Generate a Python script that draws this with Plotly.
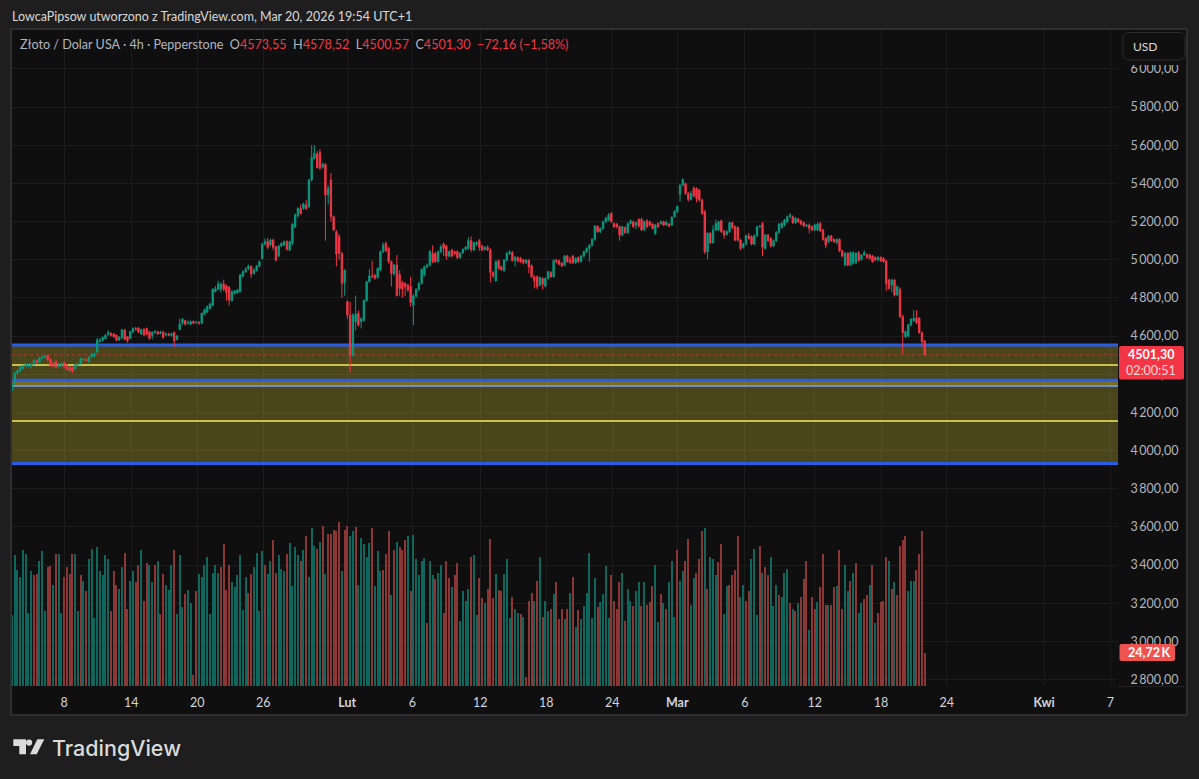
import plotly.graph_objects as go

W, H = 1199, 779
PL, PR, PT, PB = 12, 1118, 30, 686
X_END = 402.3

opens = [
    4317,4352,4405,4419,4431,4443,4443,4443,4452,4471,
    4461,4485,4489,4499,4478,4457,4466,4440,4447,4460,
    4447,4436,4436,4429,4450,4457,4475,4478,4466,4492,
    4495,4517,4572,4579,4586,4607,4614,4611,4604,4579,
    4590,4632,4597,4588,4621,4639,4642,4611,4635,4639,
    4622,4604,4618,4621,4614,4621,4608,4611,4604,4618,
    4583,4635,4667,4681,4668,4663,4677,4670,4672,4667,
    4716,4726,4745,4761,4834,4845,4845,4873,4862,4855,
    4786,4824,4827,4833,4915,4937,4953,4964,4929,4943,
    4967,5007,5082,5095,5077,5103,5068,5020,5072,5077,
    5095,5051,5086,5173,5229,5269,5269,5287,5278,5418,
    5532,5554,5561,5485,5500,5340,5418,5226,5147,5121,
    5034,4880,4780,4710,4500,4675,4719,4676,4681,4786,
    4885,4915,4918,4908,4946,5042,5086,5060,4990,4925,
    4972,4923,4880,4876,4867,4859,4762,4810,4845,4876,
    4920,4963,4972,5033,5033,4990,5042,5082,5072,5019,
    5051,5042,5042,5012,5037,5054,5060,5100,5051,5082,
    5100,5072,5054,5065,5051,4934,4890,4995,4963,4942,
    4998,5033,5038,4995,5012,5007,4998,4984,4998,4969,
    4911,4911,4867,4902,4862,4902,4934,4911,4998,4995,
    4981,4972,5019,4998,5019,4984,5012,4990,5019,5042,
    5059,5075,5107,5176,5147,5164,5199,5208,5243,5190,
    5187,5173,5129,5169,5142,5190,5199,5182,5211,5211,
    5159,5204,5199,5187,5138,5190,5190,5199,5182,5187,
    5182,5225,5252,5344,5391,5398,5348,5316,5374,5374,
    5365,5313,5252,5042,5138,5089,5156,5156,5204,5150,
    5133,5147,5194,5173,5169,5103,5065,5082,5126,5120,
    5082,5126,5173,5190,5059,5129,5112,5072,5100,5143,
    5169,5182,5199,5225,5225,5194,5213,5203,5194,5177,
    5182,5173,5156,5156,5191,5156,5112,5095,5124,5107,
    5089,5107,5047,4972,5034,4972,4981,4985,5037,5002,
    5025,5028,5025,5020,5012,4999,5012,5007,4993,4894,
    4868,4894,4815,4845,4702,4597,4600,4658,4681,4693,
    4693,4618,4573.55,
]
closes = [
    4344,4405,4419,4436,4443,4454,4447,4452,4471,4461,
    4485,4492,4492,4475,4447,4443,4436,4448,4457,4440,
    4426,4422,4415,4450,4454,4482,4478,4471,4489,4506,
    4506,4579,4579,4593,4604,4618,4604,4597,4579,4593,
    4632,4583,4576,4623,4639,4635,4621,4632,4606,4611,
    4588,4618,4625,4611,4621,4593,4611,4604,4611,4576,
    4600,4663,4688,4663,4672,4675,4667,4672,4667,4719,
    4737,4754,4768,4845,4848,4873,4873,4845,4827,4789,
    4833,4834,4841,4920,4937,4950,4967,4925,4946,4967,
    4990,5082,5095,5065,5103,5065,4999,5072,5086,5095,
    5055,5095,5187,5235,5269,5243,5292,5269,5418,5537,
    5558,5484,5479,5500,5339,5374,5226,5156,5030,5034,
    4876,4945,4710,4500,4710,4715,4658,4690,4786,4885,
    4915,4911,4903,4955,5042,5077,5048,4990,4929,4972,
    4812,4850,4845,4858,4841,4775,4810,4845,4876,4949,
    4963,4972,5045,4990,4990,5042,5068,5059,5019,5042,
    5019,5033,5011,5033,5054,5065,5100,5054,5089,5089,
    5065,5051,5065,5052,4934,4916,4990,4955,4949,4998,
    5033,5042,4995,5012,4995,4990,4984,4998,4963,4911,
    4890,4859,4907,4872,4902,4937,4911,4995,4990,4977,
    4967,5019,4990,4985,4984,5007,4990,5019,5042,5059,
    5075,5107,5176,5147,5164,5199,5217,5234,5199,5173,
    5173,5129,5173,5142,5190,5204,5173,5194,5176,5156,
    5199,5173,5182,5164,5182,5173,5199,5182,5196,5176,
    5222,5252,5281,5391,5421,5348,5316,5348,5334,5321,
    5313,5243,5042,5138,5089,5156,5190,5199,5147,5129,
    5147,5194,5169,5103,5103,5059,5082,5126,5112,5082,
    5126,5173,5176,5065,5129,5100,5072,5100,5143,5187,
    5190,5208,5225,5234,5194,5217,5199,5187,5177,5180,
    5165,5156,5182,5187,5152,5107,5077,5124,5100,5095,
    5107,5047,5020,5034,4972,5037,5037,5034,4995,5025,
    5037,5012,5007,4990,4999,5012,4995,4990,4876,4850,
    4894,4815,4859,4702,4618,4623,4658,4688,4693,4670,
    4618,4570,4501.30,
]
highs = [
    4350,4410,4428,4445,4450,4462,4453,4458,4480,4478,
    4492,4498,4500,4503,4483,4466,4475,4458,4462,4465,
    4453,4442,4440,4456,4460,4488,4484,4482,4494,4512,
    4514,4590,4590,4598,4610,4630,4620,4615,4608,4600,
    4637,4636,4600,4628,4645,4648,4648,4640,4642,4645,
    4628,4625,4630,4628,4628,4628,4620,4618,4618,4624,
    4606,4692,4694,4686,4682,4682,4682,4680,4678,4724,
    4744,4760,4775,4850,4862,4890,4880,4895,4870,4862,
    4840,4842,4848,4925,4945,4960,4975,4970,4955,4972,
    4996,5088,5112,5115,5110,5110,5072,5078,5092,5100,
    5102,5100,5192,5242,5275,5290,5300,5312,5425,5600,
    5600,5570,5580,5510,5505,5390,5455,5232,5155,5135,
    5040,4950,4788,4780,4720,4812,4735,4700,4792,4890,
    4950,4994,4925,4960,5048,5090,5095,5068,4995,4978,
    5025,4945,4890,4882,4872,4911,4820,4850,4885,4955,
    4970,4980,5050,5075,5040,5048,5080,5090,5078,5048,
    5056,5048,5050,5040,5060,5072,5118,5122,5095,5096,
    5108,5078,5072,5075,5060,4940,4996,5000,4970,5003,
    5040,5050,5046,5020,5018,5015,5005,5004,5002,4975,
    4918,4918,4912,4908,4908,4942,4940,5002,5005,5000,
    4988,5025,5025,5015,5025,5012,5018,5025,5048,5065,
    5082,5112,5182,5180,5170,5205,5225,5245,5250,5196,
    5192,5180,5178,5175,5196,5210,5205,5200,5218,5220,
    5206,5212,5205,5192,5188,5196,5205,5205,5205,5192,
    5228,5260,5282,5395,5425,5405,5355,5360,5385,5380,
    5372,5320,5260,5145,5145,5180,5210,5205,5210,5155,
    5155,5200,5200,5180,5175,5110,5090,5132,5140,5128,
    5132,5178,5182,5198,5135,5135,5118,5106,5150,5192,
    5198,5214,5232,5245,5232,5224,5220,5210,5200,5188,
    5190,5180,5190,5195,5196,5162,5118,5130,5130,5112,
    5112,5112,5052,5040,5040,5043,5044,5040,5045,5030,
    5048,5032,5032,5026,5018,5018,5018,5014,5000,4900,
    4900,4900,4865,4855,4712,4630,4665,4694,4736,4736,
    4700,4624,4578.52,
]
lows = [
    4312,4345,4398,4410,4425,4436,4436,4430,4448,4455,
    4458,4480,4484,4470,4440,4436,4430,4432,4440,4432,
    4420,4412,4408,4422,4444,4450,4468,4466,4460,4486,
    4490,4510,4566,4572,4582,4602,4598,4590,4572,4574,
    4584,4578,4565,4584,4616,4628,4614,4606,4600,4604,
    4580,4582,4614,4606,4608,4586,4600,4600,4598,4544,
    4578,4630,4660,4655,4660,4658,4662,4664,4660,4662,
    4710,4720,4740,4756,4828,4840,4828,4835,4785,4760,
    4780,4818,4822,4828,4908,4930,4945,4905,4922,4938,
    4960,5000,5076,5055,5070,5050,4990,5014,5066,5070,
    5048,5045,5078,5165,5222,5235,5262,5260,5272,5410,
    5525,5478,5472,5478,5100,5290,5200,5150,4965,5000,
    4800,4812,4688,4410,4490,4630,4650,4640,4676,4780,
    4880,4905,4895,4900,4940,5036,5040,4980,4860,4918,
    4808,4812,4800,4810,4830,4754,4658,4800,4835,4870,
    4912,4955,4965,4982,4984,4985,5036,5020,5000,5012,
    5012,5025,5003,5006,5030,5048,5052,5040,5045,5072,
    5046,5045,5048,5045,4881,4905,4886,4948,4940,4937,
    4990,5025,4990,4965,4985,4984,4975,4978,4930,4905,
    4850,4845,4860,4845,4855,4896,4905,4905,4980,4970,
    4962,4966,4984,4978,4978,4978,4984,4985,5012,5036,
    4990,5070,5100,5140,5140,5158,5192,5202,5192,5166,
    5165,5100,5123,5136,5136,5184,5166,5160,5170,5150,
    5150,5165,5175,5158,5130,5166,5183,5176,5176,5170,
    5176,5220,5245,5305,5385,5340,5305,5310,5328,5300,
    5305,5235,5030,5002,5082,5084,5150,5150,5140,5110,
    5126,5140,5160,5096,5095,5050,5058,5076,5105,5075,
    5076,5120,5168,5019,5052,5092,5065,5066,5094,5136,
    5162,5175,5190,5218,5188,5188,5192,5180,5170,5170,
    5138,5150,5150,5150,5146,5100,5060,5088,5094,5088,
    5082,5040,5012,4966,4966,4966,4975,4978,4990,4995,
    5020,5005,5000,4985,4992,4992,4988,4984,4838,4842,
    4830,4808,4810,4695,4506,4590,4594,4652,4675,4662,
    4612,4544,4500.57,
]

# volume in thousands
volumes = [
    53,98,87,82,102,99,55,86,83,84,
    94,101,56,89,90,76,99,99,55,82,
    89,84,99,99,56,83,79,71,95,103,
    51,104,86,83,98,95,56,86,76,73,
    89,100,58,79,86,78,91,102,64,92,
    91,78,91,94,54,84,76,72,91,102,
    54,98,59,69,72,62,8,71,84,82,
    91,97,54,85,91,85,89,106,72,91,
    78,74,83,98,57,82,70,84,89,100,
    56,101,91,84,94,109,85,98,88,86,
    99,107,75,104,98,94,102,112,82,118,
    105,103,108,120,84,114,114,117,116,123,
    86,117,120,112,116,119,76,111,106,97,
    107,118,75,101,86,87,99,116,68,102,
    108,104,
    102,109,112,71,113,95,83,94,96,47,
    94,83,80,85,91,55,94,81,74,83,
    92,49,71,64,73,97,98,53,81,66,
    62,73,110,66,84,72,71,84,95,51,
    67,58,55,54,52,7,64,70,64,79,
    97,52,64,56,58,69,78,50,58,50,
    58,70,82,44,57,50,60,70,100,51,
    81,59,63,69,90,51,83,64,58,78,
    85,49,73,64,60,71,78,60,78,61,
    63,75,91,48,69,62,58,78,94,52,
    102,79,86,94,110,61,81,85,95,116,
    118,73,97,95,83,93,106,54,75,76,
    83,87,112,67,76,64,71,95,103,53,
    105,85,89,83,97,60,76,68,67,85,
    88,62,58,56,62,
    67,80,94,42,67,58,63,74,99,61,
    61,61,74,75,102,58,91,71,79,85,
    92,55,62,65,68,76,91,47,55,63,
    64,97,94,73,78,68,105,109,112,71,
    79,79,87,99,116,24.72,
]
vol_up = [
    1,1,1,1,1,1,1,1,0,0,
    1,1,1,0,0,1,0,1,1,0,
    0,0,0,1,1,0,1,0,1,1,
    1,1,1,1,1,1,0,0,0,1,
    1,0,0,1,1,0,0,1,0,0,
    1,1,0,1,0,0,1,1,1,0,
    1,1,1,0,1,1,0,0,1,1,
    1,1,1,1,1,1,0,0,0,0,
    1,1,1,1,1,1,0,0,1,1,
    1,1,0,1,1,0,0,1,1,1,
    0,1,1,1,1,0,1,0,1,1,
    1,0,1,0,1,0,0,0,0,0,
    1,0,0,1,1,0,1,1,1,1,
    1,0,1,1,1,0,0,0,1,0,
    1,0,
    0,0,1,0,1,1,1,1,1,0,
    1,1,0,1,1,0,0,0,1,0,
    0,1,1,1,1,0,1,1,0,0,
    1,0,0,0,1,0,0,1,1,1,
    0,1,1,0,1,0,0,0,1,0,
    1,0,1,1,0,1,0,0,0,1,
    0,1,0,1,0,1,1,1,1,1,
    1,0,1,1,1,1,0,0,0,0,
    1,0,1,1,0,1,1,0,1,0,
    0,0,1,1,0,1,0,1,1,1,
    0,1,1,0,0,1,1,0,0,0,
    1,0,1,1,1,0,0,1,1,0,
    0,0,0,1,1,0,0,1,1,1,
    0,1,0,0,1,1,1,0,1,1,
    1,0,1,0,1,
    0,0,0,1,0,0,1,0,0,0,
    1,0,0,1,0,0,1,1,0,1,
    0,1,1,0,0,1,0,1,0,0,
    0,0,1,0,1,0,0,0,0,1,
    1,1,0,0,0,0,
]

y_ticks = [2800,3000,3200,3400,3600,3800,4000,4200,4400,4600,4800,5000,5200,5400,5600,5800,6000]
y_labels = ["2\u2009800,00","3\u2009000,00","3\u2009200,00","3\u2009400,00","3\u2009600,00","3\u2009800,00",
            "4\u2009000,00","4\u2009200,00","4\u2009400,00","4\u2009600,00","4\u2009800,00","5\u2009000,00",
            "5\u2009200,00","5\u2009400,00","5\u2009600,00","5\u2009800,00","6\u2009000,00"]
x_ticks = [19,43.4,67.4,91.4,121.9,145.6,170.3,194.3,218.3,242,266.6,292,316.1,340,375.4,399.5]
x_labels = ["8","14","20","26","<b>Lut</b>","6","12","18","24","<b>Mar</b>","6","12","18","24","<b>Kwi</b>","7"]

zone_top = [4553, 4338]
zone_low = [4369, 3932]
mid_levels = [4448, 4155]
last_close = 4501.30

assert len(opens) == len(highs) == len(lows) == len(closes) == len(volumes) == len(vol_up), (
    len(opens), len(highs), len(lows), len(closes), len(volumes), len(vol_up))

FONT = "Lato"
BAR_X = list(range(len(opens)))


def px(x):
    return (x - PL) / (PR - PL)


def py(y):
    return 1 - (y - PT) / (PB - PT)


def box(x0, y0, x1, y1, **kw):
    return dict(type="rect", xref="paper", yref="paper", x0=px(x0), x1=px(x1), y0=py(y0), y1=py(y1), **kw)


def poly(points, **kw):
    d = "M" + " L".join(f"{px(a):.5f},{py(b):.5f}" for a, b in points) + " Z"
    return dict(type="path", xref="paper", yref="paper", path=d, **kw)


def round_box(x0, y0, x1, y1, r, **kw):
    a0, a1, b0, b1 = px(x0), px(x1), py(y0), py(y1)
    rx, ry = r / (PR - PL), r / (PB - PT)
    d = (f"M{a0+rx:.5f},{b0:.5f} L{a1-rx:.5f},{b0:.5f} Q{a1:.5f},{b0:.5f} {a1:.5f},{b0-ry:.5f} "
         f"L{a1:.5f},{b1+ry:.5f} Q{a1:.5f},{b1:.5f} {a1-rx:.5f},{b1:.5f} "
         f"L{a0+rx:.5f},{b1:.5f} Q{a0:.5f},{b1:.5f} {a0:.5f},{b1+ry:.5f} "
         f"L{a0:.5f},{b0-ry:.5f} Q{a0:.5f},{b0:.5f} {a0+rx:.5f},{b0:.5f} Z")
    return dict(type="path", xref="paper", yref="paper", path=d, **kw)


# xref has to be the axis here, paper-referenced shapes end up under the grid
def level(value, color, width, dash="solid"):
    return dict(type="line", xref="x", yref="y", x0=0, x1=X_END, y0=value, y1=value,
                line=dict(color=color, width=width, dash=dash), layer="between")


def zone(top, bottom):
    return dict(type="rect", xref="x", yref="y", x0=0, x1=X_END, y0=bottom, y1=top,
                fillcolor="rgba(255,230,68,0.25)", line_width=0, layer="between")


def label(x, y, text, size=12, color="#d1d4dc", anchor="left", family=FONT, weight=None):
    return dict(xref="paper", yref="paper", x=px(x), y=py(y), text=text, showarrow=False,
                xanchor=anchor, yanchor="middle", align=anchor,
                font=dict(family=family, size=size, color=color, weight=weight))


fig = go.Figure()
fig.add_trace(go.Candlestick(
    x=BAR_X, open=opens, high=highs, low=lows, close=closes,
    increasing=dict(line=dict(color="#089981", width=1), fillcolor="#089981"),
    decreasing=dict(line=dict(color="#f23645", width=1), fillcolor="#f23645"),
    whiskerwidth=0, showlegend=False, hoverinfo="skip",
))
fig.add_trace(go.Bar(
    x=BAR_X, y=volumes, yaxis="y2", width=0.42, showlegend=False, hoverinfo="skip",
    marker=dict(color=["#0e665c" if u else "#8a3735" for u in vol_up], line_width=0),
))

shapes = [
    box(11, 29, 1187, 715, fillcolor="#0f0f0f", line=dict(color="#2e2e2e", width=2), layer="below"),
    zone(zone_top[0], zone_top[1]),
    zone(zone_low[0], zone_low[1]),
    level(zone_top[0], "#2b5ce6", 3),
    level(zone_low[0], "#2b5ce6", 3),
    level(zone_low[1], "#2b5ce6", 3),
    level(zone_top[1], "#6f8fc4", 2),
    level(mid_levels[0], "#f5ea5a", 1.6),
    level(mid_levels[1], "#f5ea5a", 1.6),
    level(last_close, "#b5343c", 1, "dot"),
    box(1119, 686, 1187, 686.8, fillcolor="#2a2a2a", line_width=0, layer="below"),
    # top of the 6000 label is cut off under the currency button in the original
    box(1119, 31, 1186, 65, fillcolor="#0f0f0f", line_width=0, layer="above"),
    # price and volume pills sit over the axis labels
    round_box(1119, 346, 1184, 379.5, 2, fillcolor="#f23645", line_width=0, layer="above"),
    round_box(1119.5, 644, 1175, 661, 2, fillcolor="#ef5350", line_width=0, layer="above"),
    round_box(1123, 32.5, 1185, 60, 6, fillcolor="#0f0f0f", line=dict(color="#2e2e2e", width=1), layer="above"),
    # logo
    poly([(13.3, 739.3), (26, 739.3), (26, 754.3), (19.3, 754.3), (19.3, 746), (13.3, 746)],
         fillcolor="#dbdbdb", line_width=0),
    dict(type="circle", xref="paper", yref="paper", x0=px(26), x1=px(32.2), y0=py(739.5), y1=py(745.7),
         fillcolor="#dbdbdb", line_width=0),
    poly([(37.3, 739.3), (44.3, 739.3), (36.7, 754.3), (30, 754.3)], fillcolor="#dbdbdb", line_width=0),
]

RED = "#f23645"
GREY = "#b2b5be"
legend_text = (
    f"Złoto / Dolar USA · 4h · Pepperstone  O<span style='color:{RED}'>4573,55</span>  "
    f"H<span style='color:{RED}'>4578,52</span>  L<span style='color:{RED}'>4500,57</span>  "
    f"C<span style='color:{RED}'>4501,30</span>  <span style='color:{RED}'>−72,16 (−1,58%)</span>"
)
annotations = [
    label(10, 16, "LowcaPipsow utworzono z TradingView.com, Mar 20, 2026 19:54 UTC+1", size=12.5, color="#d8d8d8"),
    label(18, 45, legend_text, size=12.6, color=GREY),
    label(1131, 46, "USD", size=12, color="#d8d8d8"),
    label(1151, 354, "<b>4501,30</b>", size=12.5, color="#ffffff", anchor="center"),
    label(1151, 370, "02:00:51", size=12.5, color="#ffd9dc", anchor="center"),
    label(1149, 652.5, "<b>24,72\u2009K</b>", size=12.5, color="#ffffff", anchor="center"),
    label(49.5, 748, "TradingView", size=21.5, color="#dbdbdb", family="Inter", weight=500),
]

fig.update_layout(
    width=W, height=H, autosize=False,
    paper_bgcolor="#1e1e1e", plot_bgcolor="rgba(0,0,0,0)",
    margin=dict(l=PL, r=W - PR, t=PT, b=H - PB, pad=0),
    bargap=0, showlegend=False,
    shapes=shapes, annotations=annotations,
    xaxis=dict(
        range=[0, X_END], rangeslider_visible=False, tickmode="array", tickvals=x_ticks, ticktext=x_labels,
        showgrid=True, gridcolor="#1c1c1c", gridwidth=1, zeroline=False, showline=False,
        ticks="outside", ticklen=5, tickcolor="rgba(0,0,0,0)",
        tickfont=dict(family=FONT, size=12.5, color="#d1d4dc"),
    ),
    yaxis=dict(
        range=[2766, 6204], side="right", tickmode="array", tickvals=y_ticks, ticktext=y_labels,
        showgrid=True, gridcolor="#1c1c1c", gridwidth=1, zeroline=False, showline=False,
        ticks="outside", ticklen=9, tickcolor="rgba(0,0,0,0)",
        tickfont=dict(family=FONT, size=12.5, color="#b2b5be"),
    ),
    yaxis2=dict(range=[0, 491.4], overlaying="y", side="left", visible=False),
)

fig.write_html(
    "out.html",
    config={"displayModeBar": False},
    post_script="document.body.style.margin='0';document.body.style.overflow='hidden';"
                "document.body.style.background='#1e1e1e';",
)
